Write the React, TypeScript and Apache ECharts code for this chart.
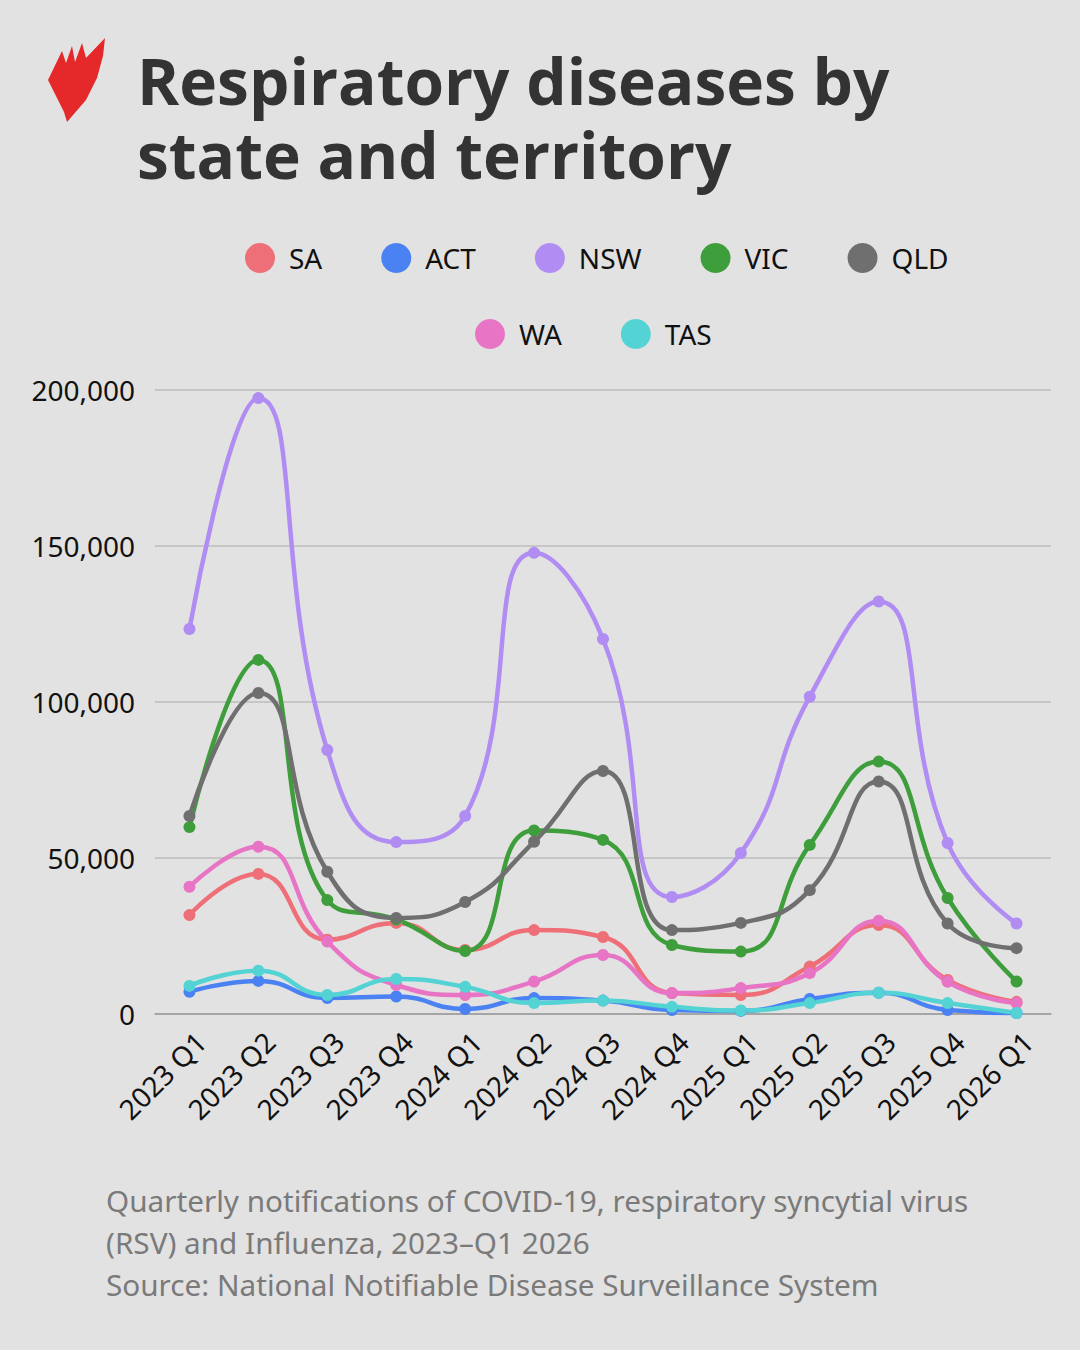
import React, { useEffect, useRef } from "react";
import * as echarts from "echarts";

// Quarterly notifications (COVID-19, RSV, influenza) by jurisdiction
const quarters = [
  "2023 Q1", "2023 Q2", "2023 Q3", "2023 Q4",
  "2024 Q1", "2024 Q2", "2024 Q3", "2024 Q4",
  "2025 Q1", "2025 Q2", "2025 Q3", "2025 Q4",
  "2026 Q1",
];

const saValues = [31700, 44900, 23800, 29200, 20500, 26900, 24700, 6700, 6100, 15200, 28500, 10900, 3900];
const actValues = [7100, 10600, 5100, 5600, 1600, 5100, 4300, 1300, 1000, 4800, 6800, 1300, 300];
const nswValues = [123400, 197400, 84600, 55100, 63500, 147800, 120200, 37500, 51600, 101700, 132200, 54800, 29000];
const vicValues = [59900, 113500, 36500, 30300, 20200, 58800, 55800, 22100, 20000, 54200, 80900, 37200, 10400];
const qldValues = [63500, 102900, 45600, 30800, 35900, 55200, 77900, 26900, 29200, 39700, 74500, 29000, 21100];
const waValues = [40800, 53600, 23200, 9300, 6100, 10400, 18900, 6700, 8300, 13100, 29900, 10300, 3500];
const tasValues = [9000, 13900, 6100, 11200, 8700, 3500, 4300, 2300, 1100, 3500, 6800, 3500, 300];

const stateNames = ["SA", "ACT", "NSW", "VIC", "QLD", "WA", "TAS"];
const stateValues = [saValues, actValues, nswValues, vicValues, qldValues, waValues, tasValues];
const stateColors = ["#ef6f78", "#4a82f4", "#b08cf3", "#3f9e3c", "#6f6f6f", "#e874c6", "#53d3d3"];

const yTicks = [0, 50000, 100000, 150000, 200000];

const titleLines = ["Respiratory diseases by", "state and territory"];
const noteLines = [
  "Quarterly notifications of COVID-19, respiratory syncytial virus",
  "(RSV) and Influenza, 2023\u2013Q1 2026",
  "Source: National Notifiable Disease Surveillance System",
];

const FONT = "'Noto Sans', 'Open Sans', sans-serif";
const BG = "#e2e2e2";

export default function App() {
  const ref = useRef<HTMLDivElement>(null);

  useEffect(() => {
    document.body.style.margin = "0";
    document.body.style.background = BG;
    if (!ref.current) return;
    const chart = echarts.init(ref.current, null, { renderer: "svg" });

    const series = stateNames.map((name, i) => ({
      name,
      type: "line",
      data: stateValues[i],
      smooth: 0.5,
      symbol: "circle",
      symbolSize: 12,
      lineStyle: { width: 4.5, color: stateColors[i] },
      itemStyle: { color: stateColors[i] },
      emphasis: { disabled: true },
    }));

    const legendCommon = {
      icon: "circle",
      itemWidth: 30,
      itemHeight: 30,
      itemGap: 59,
      orient: "horizontal",
      textStyle: { fontSize: 28, color: "#111", fontFamily: FONT, padding: [0, 0, 0, 9] },
      selectedMode: false,
    };

    // flame-like logo mark, drawn as a jagged outline
    const logoPoints = [
      [105, 38], [103, 56], [97, 78], [86, 100], [67, 122],
      [64, 112], [60, 104], [56, 96], [52, 88], [48, 80],
      [62, 51], [66, 63], [72, 46], [75, 62], [82, 43], [86, 58],
    ];

    const graphics: any[] = [
      {
        type: "polygon",
        shape: { points: logoPoints },
        style: { fill: "#e5282a" },
      },
      {
        type: "text",
        left: 137,
        top: 43,
        style: {
          text: titleLines.join("\n"),
          fontSize: 64,
          lineHeight: 74,
          fontWeight: "bold",
          fontFamily: "'Open Sans', 'Noto Sans', sans-serif",
          fill: "#333333",
        },
      },
      {
        type: "text",
        left: 106,
        top: 1179,
        style: {
          text: noteLines.join("\n"),
          fontSize: 29.7,
          lineHeight: 42,
          fontFamily: FONT,
          fill: "#7a7a7a",
        },
      },
    ];

    chart.setOption({
      animation: false,
      backgroundColor: BG,
      color: stateColors,
      grid: { left: 155, right: 29, top: 390, height: 624, containLabel: false },
      legend: [
        { ...legendCommon, data: stateNames.slice(0, 5), left: 240, top: 238 },
        { ...legendCommon, data: stateNames.slice(5), left: 470, top: 314 },
      ],
      xAxis: {
        type: "category",
        data: quarters,
        boundaryGap: true,
        axisLine: { lineStyle: { color: "#9a9a9a", width: 1.5 } },
        axisTick: { show: false },
        axisLabel: {
          rotate: 45,
          fontSize: 28,
          color: "#111",
          fontFamily: FONT,
          margin: 34,
          padding: [0, -16, 0, 0],
          interval: 0,
        },
      },
      yAxis: {
        type: "value",
        min: yTicks[0],
        max: yTicks[yTicks.length - 1],
        interval: yTicks[1] - yTicks[0],
        axisLine: { show: false },
        axisTick: { show: false },
        splitLine: { lineStyle: { color: "#bcbcbc", width: 1.5 } },
        axisLabel: {
          fontSize: 28,
          color: "#111",
          fontFamily: FONT,
          margin: 20,
          formatter: (v: number) => v.toLocaleString("en-US"),
        },
      },
      graphic: graphics,
      series,
    });

    return () => chart.dispose();
  }, []);

  return <div ref={ref} style={{ width: 1080, height: 1350 }} />;
}
